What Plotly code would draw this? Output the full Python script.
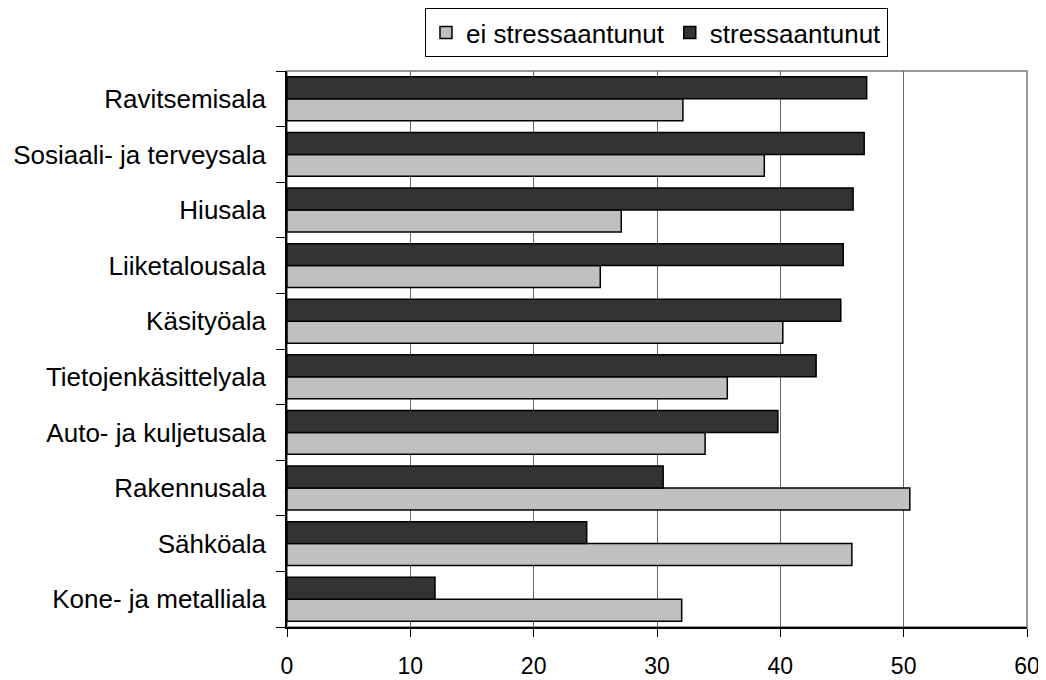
import plotly.graph_objects as go

# categories listed bottom-to-top
categories = ["Kone- ja metalliala", "Sähköala", "Rakennusala", "Auto- ja kuljetusala",
              "Tietojenkäsittelyala", "Käsityöala", "Liiketalousala", "Hiusala",
              "Sosiaali- ja terveysala", "Ravitsemisala"]
ei_stressaantunut = [32.0, 45.8, 50.5, 33.9, 35.7, 40.2, 25.4, 27.1, 38.7, 32.1]
stressaantunut = [12.0, 24.3, 30.5, 39.8, 42.9, 44.9, 45.1, 45.9, 46.8, 47.0]
x_ticks = [0, 10, 20, 30, 40, 50, 60]

FONT = "Liberation Sans, Arial, sans-serif"

fig = go.Figure()
fig.add_trace(go.Bar(y=categories, x=ei_stressaantunut, orientation="h",
                     name="ei stressaantunut",
                     marker=dict(color="#C0C0C0", line=dict(color="black", width=1.5))))
fig.add_trace(go.Bar(y=categories, x=stressaantunut, orientation="h",
                     name="stressaantunut",
                     marker=dict(color="#333333", line=dict(color="black", width=1.5))))

fig.update_layout(
    width=1038, height=672,
    margin=dict(l=279, r=19, t=0, b=53, autoexpand=False),
    paper_bgcolor="white", plot_bgcolor="white",
    barmode="group", bargap=0.21, bargroupgap=0,
    font=dict(family=FONT, color="black"),
    legend=dict(orientation="h", x=0.4993, xanchor="center", y=1.0, yanchor="top",
                bordercolor="black", borderwidth=1, font=dict(size=26, family=FONT),
                traceorder="normal", itemwidth=30, tracegroupgap=0),
    xaxis=dict(range=[0, 60], tickvals=x_ticks, ticktext=[str(v) for v in x_ticks],
               showgrid=True, gridcolor="#666666", gridwidth=1,
               showline=True, linecolor="black", linewidth=1.5,
               ticks="outside", ticklen=8, tickcolor="black",
               ticklabelstandoff=10, ticklabeloverflow="allow",
               tickfont=dict(size=23, family=FONT), zeroline=False, fixedrange=True),
    yaxis=dict(type="category", categoryorder="array", categoryarray=categories,
               domain=[0, 1 - 63 / 619],
               showgrid=False, showline=True, linecolor="black", linewidth=1.5,
               ticks="outside", ticklen=9, tickcolor="black", tickson="boundaries",
               ticklabelstandoff=14, ticklabeloverflow="allow",
               tickfont=dict(size=26, family=FONT), fixedrange=True),
    shapes=[dict(type="rect", xref="x domain", yref="y domain", x0=0, x1=1, y0=0, y1=1,
                 line=dict(color="#999999", width=2), layer="below")],
)

fig.write_html("out.html")
